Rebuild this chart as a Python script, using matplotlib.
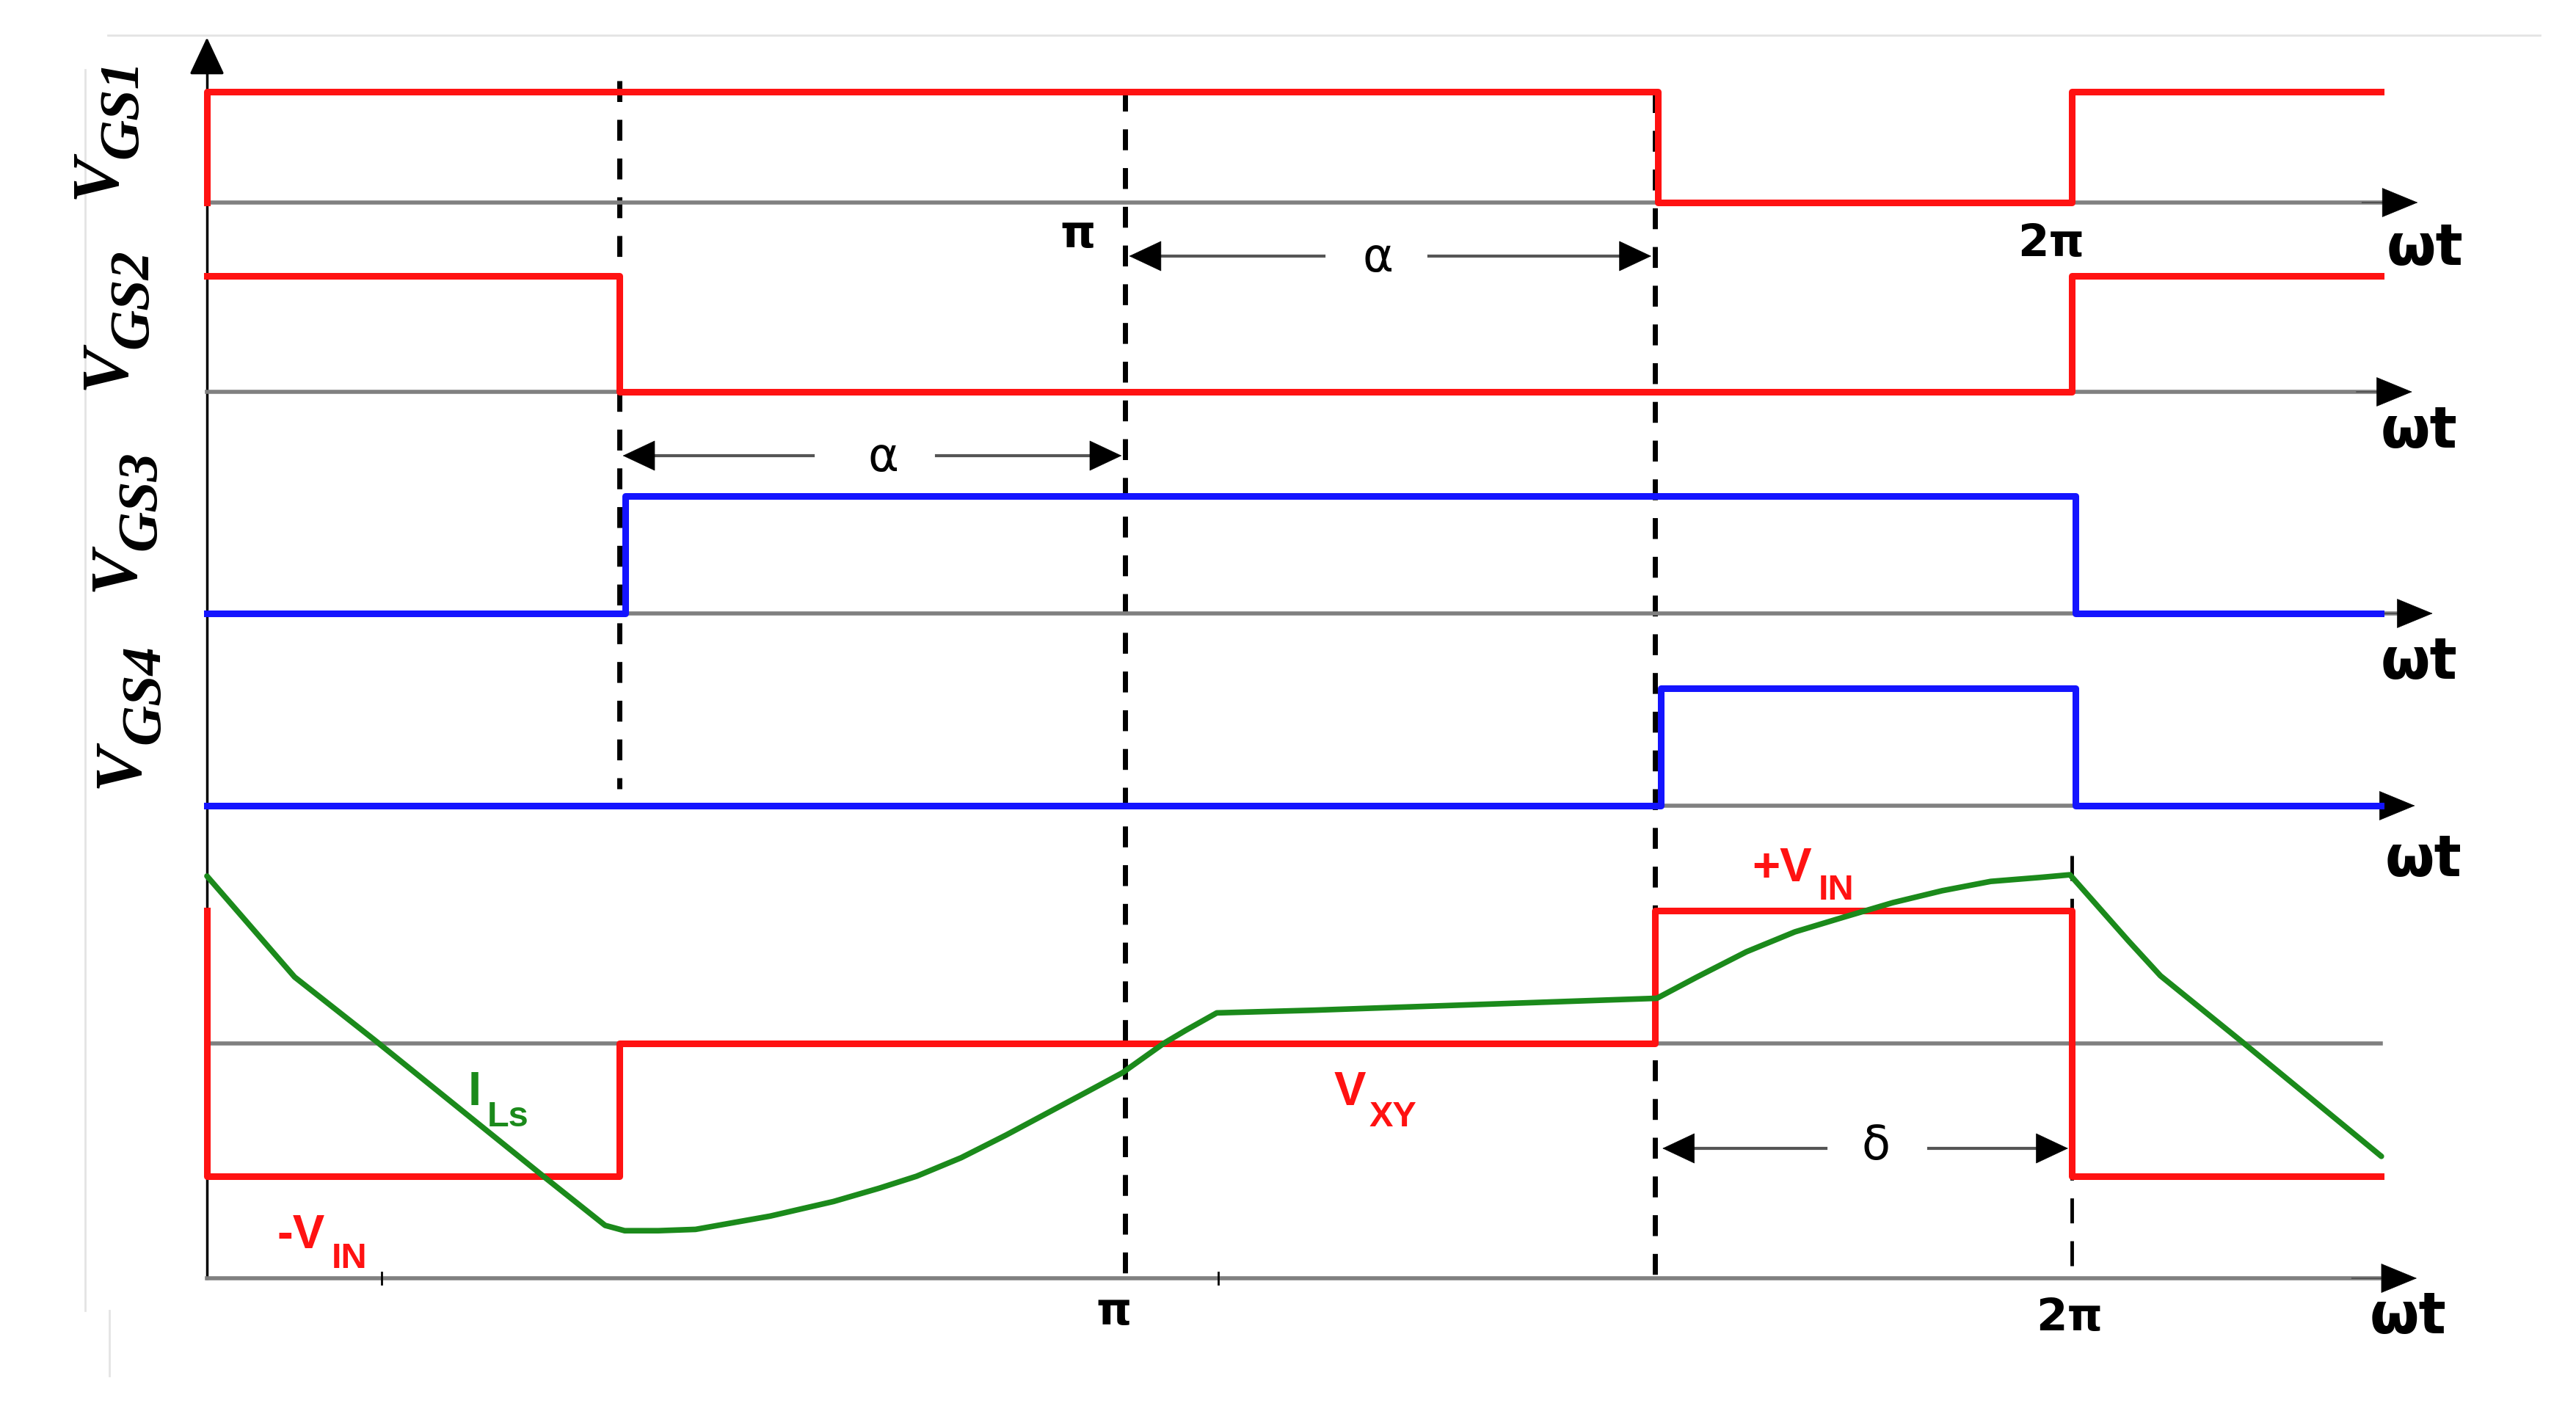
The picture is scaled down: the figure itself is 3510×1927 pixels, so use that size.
import matplotlib
matplotlib.use("Agg")
import matplotlib.pyplot as plt

W, H = 3510, 1927
X0_PX, PI_PX = 282, 1270.5   # pixel column of wt = 0, pixels per pi

RED = "#ff1212"
BLUE = "#1414ff"
GREEN = "#1b8a1b"
GRAY = "#808080"

# switching instants (units of pi)
t_alpha = 0.442
t_pi = 0.985
t_delta = 1.553
t_2pi = 2.0
t_end = 2.331

# gate signals, steps-post
vgs1_t = [0, 0, 1.556, 2.0, 2.331]
vgs1_v = [0, 1, 0, 1, 1]
vgs2_t = [0, 0.442, 2.0, 2.331]
vgs2_v = [1, 0, 1, 1]
vgs3_t = [0, 0.449, 2.004, 2.331]
vgs3_v = [0, 1, 0, 0]
vgs4_t = [0, 1.559, 2.004, 2.331]
vgs4_v = [0, 1, 0, 0]

# bridge voltage V_XY (in units of V_IN), steps-post
vxy_t = [0, 0, 0.442, 1.553, 2.0, 2.331]
vxy_v = [1, -1, 0, 1, -1, -1]

# inductor current I_Ls (same vertical units)
ils_t = [0.000, 0.094, 0.179, 0.359, 0.427, 0.448, 0.484, 0.524, 0.564, 0.604,
         0.641, 0.672, 0.721, 0.761, 0.809, 0.857, 0.905, 0.945, 0.982, 1.026,
         1.050, 1.083, 1.186, 1.555, 1.598, 1.651, 1.703, 1.755, 1.808, 1.861,
         1.913, 1.966, 1.998, 2.061, 2.095, 2.183, 2.332]
ils_v = [1.26, 0.50, 0.03, -0.99, -1.37, -1.41, -1.41, -1.40, -1.35, -1.30,
         -1.24, -1.19, -1.09, -1.00, -0.86, -0.69, -0.51, -0.36, -0.22, 0.00,
         0.10, 0.23, 0.25, 0.34, 0.50, 0.69, 0.84, 0.95, 1.06, 1.15,
         1.22, 1.25, 1.27, 0.77, 0.51, 0.01, -0.85]

# panel layout: (baseline row, pixels per unit) in the 3510x1927 frame
GATE_PANELS = [(276, 151), (534, 158), (836, 160), (1098, 160)]
ARROW_ENDS = [2.371, 2.365, 2.387, 2.368]
VXY_ZERO, VXY_SCALE = 1422, 181
BOTTOM_AXIS = 1742

XLIM = (-X0_PX / PI_PX, (W - X0_PX) / PI_PX)


def px2t(x):
    return (x - X0_PX) / PI_PX


def layer(fig, base, scale):
    ax = fig.add_axes([0, 0, 1, 1])
    ax.set_xlim(*XLIM)
    ax.set_ylim((base - H) / scale, base / scale)
    ax.axis("off")
    return ax


def put(fig, x, y, s, **kw):
    kw.setdefault("ha", "center")
    kw.setdefault("va", "center")
    fig.text(x / W, 1 - y / H, s, **kw)


def head(ax, x_from, x_to, y, ms=20, hl=1.5, hw=0.6):
    ax.annotate("", xy=(x_to, y), xytext=(x_from, y),
                arrowprops=dict(arrowstyle=f"-|>,head_length={hl},head_width={hw}",
                                color="black", lw=0.5, shrinkA=0, shrinkB=0,
                                mutation_scale=ms))


def main():
    fig = plt.figure(figsize=(W / 100, H / 100), dpi=100)
    fig.patch.set_facecolor("white")

    # guide layer: x in units of pi, y in pixel rows
    g = fig.add_axes([0, 0, 1, 1])
    g.set_xlim(*XLIM)
    g.set_ylim(H, 0)
    g.axis("off")

    # faint screenshot frame
    g.plot([px2t(147), px2t(3461)], [48, 48], color="#e4e4e4", lw=2)
    g.plot([px2t(116)] * 2, [95, 1786], color="#e4e4e4", lw=2)
    g.plot([px2t(149)] * 2, [1786, 1875], color="#e4e4e4", lw=2)

    # vertical axis with arrow
    g.plot([0, 0], [BOTTOM_AXIS, 90], color="black", lw=2.5)
    g.annotate("", xy=(0, 51), xytext=(0, 100),
               arrowprops=dict(arrowstyle="-|>,head_length=1.6,head_width=0.75",
                               color="black", lw=2.5, shrinkA=0, shrinkB=0,
                               mutation_scale=20))

    # bottom time axis
    g.plot([0, 2.33], [BOTTOM_AXIS, BOTTOM_AXIS], color=GRAY, lw=4)
    head(g, 2.30, 2.370, BOTTOM_AXIS, hl=1.7, hw=0.7)
    for xt in [0.187, 1.085]:
        g.plot([xt, xt], [BOTTOM_AXIS - 8, BOTTOM_AXIS + 8], color="black", lw=2)

    # dashed guide lines
    dash = dict(color="black", lw=5, ls=(0, (4.1, 3.5)), zorder=5)
    g.plot([t_alpha, t_alpha], [110, 1075], **dash)
    g.plot([t_pi, t_pi], [123, BOTTOM_AXIS], **dash)
    g.plot([t_delta, t_delta], [125, BOTTOM_AXIS], **dash)
    g.plot([t_2pi, t_2pi], [1166, BOTTOM_AXIS], color="black", lw=3.5,
           ls=(0, (7, 5)), zorder=5)

    # gate panels
    gates = [(vgs1_t, vgs1_v, RED), (vgs2_t, vgs2_v, RED),
             (vgs3_t, vgs3_v, BLUE), (vgs4_t, vgs4_v, BLUE)]
    for (base, scale), end, (t, v, c) in zip(GATE_PANELS, ARROW_ENDS, gates):
        ax = layer(fig, base, scale)
        ax.plot([0, end - 0.04], [0, 0], color=GRAY, lw=4, zorder=1)
        head(ax, end - 0.06, end, 0, hl=1.7, hw=0.7)
        ax.plot(t, v, drawstyle="steps-post", color=c, lw=6.5, zorder=3)

    # V_XY and I_Ls panel
    ax = layer(fig, VXY_ZERO, VXY_SCALE)
    ax.plot([0, t_end], [0, 0], color=GRAY, lw=4, zorder=1)
    ax.plot(vxy_t, vxy_v, drawstyle="steps-post", color=RED, lw=6.5, zorder=3)
    ax.plot(ils_t, ils_v, color=GREEN, lw=5.5, zorder=4,
            solid_joinstyle="round", solid_capstyle="round")

    # alpha / delta dimension arrows: (row, left head, left end, right start, right head)
    for y, xl, xle, xrs, xr in [(349, t_pi, px2t(1804), px2t(1947), t_delta),
                                (621, t_alpha, px2t(1108), px2t(1276), t_pi),
                                (1565, 1.557, px2t(2488), px2t(2628), t_2pi)]:
        g.plot([xl + 0.02, xle], [y, y], color="#555555", lw=3)
        g.plot([xrs, xr - 0.02], [y, y], color="#555555", lw=3)
        head(g, xl + 0.035, xl + 0.004, y, ms=18, hl=1.7, hw=0.8)
        head(g, xr - 0.035, xr - 0.004, y, ms=18, hl=1.7, hw=0.8)

    # axis labels
    serif = dict(family="Liberation Serif", weight="bold", style="italic",
                 rotation=90, color="black")
    for (vx, vy), (sx, sy), sub in [((135, 240), (168, 148), "GS1"),
                                    ((148, 500), (182, 407), "GS2"),
                                    ((160, 775), (193, 682), "GS3"),
                                    ((166, 1043), (198, 946), "GS4")]:
        put(fig, vx, vy, "V", size=66, **serif)
        put(fig, sx, sy, sub, size=55, **serif)

    sans_b = dict(family="DejaVu Sans", weight="bold", color="black")
    for x, y in [(3304, 339), (3296, 588), (3296, 903), (3302, 1172), (3281, 1795)]:
        put(fig, x, y, "\u03c9t", size=56, **sans_b)
    put(fig, 1469, 320, "\u03c0", size=44, **sans_b)
    put(fig, 2795, 332, "2\u03c0", size=44, **sans_b)
    put(fig, 1518, 1788, "\u03c0", size=44, **sans_b)
    put(fig, 2820, 1797, "2\u03c0", size=44, **sans_b)

    put(fig, 1877, 352, "\u03b1", size=46, family="DejaVu Sans", color="black")
    put(fig, 1204, 624, "\u03b1", size=46, family="DejaVu Sans", color="black")
    put(fig, 2556, 1562, "\u03b4", size=46, family="DejaVu Sans", color="black")

    arial = dict(family="Liberation Sans", weight="bold", ha="left", va="baseline")
    for (x, y, main_txt, sx, sy, sub, c) in [
            (378, 1701, "-V", 452, 1728, "IN", RED),
            (2387, 1201, "+V", 2478, 1226, "IN", RED),
            (1818, 1506, "V", 1866, 1535, "XY", RED),
            (638, 1506, "I", 664, 1535, "Ls", GREEN)]:
        put(fig, x, y, main_txt, size=47, color=c, **arial)
        put(fig, sx, sy, sub, size=35, color=c, **arial)

    fig.savefig("out.png", dpi=100, facecolor="white")
    plt.close(fig)


if __name__ == "__main__":
    main()
